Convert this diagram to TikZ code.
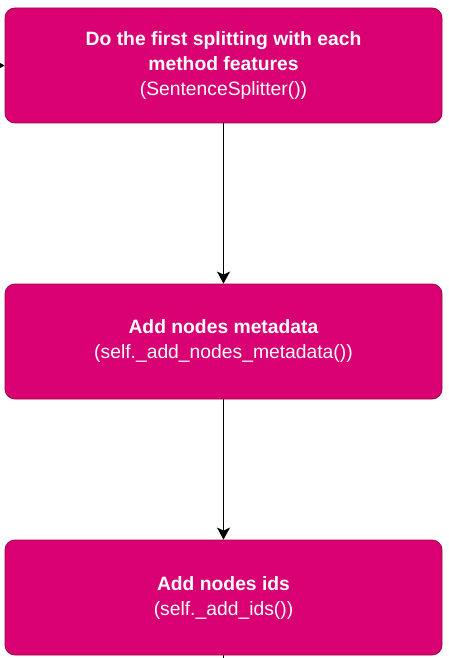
\documentclass[tikz,border=0pt]{standalone}
\usepackage{fontspec}
\setmainfont{Liberation Sans}
\usepackage{tikz}
\usetikzlibrary{calc,positioning,arrows.meta}
\definecolor{boxfill}{HTML}{D80073}
\definecolor{boxline}{HTML}{A50040}

\begin{document}
\begin{tikzpicture}[x=1pt, y=1pt, lbl/.style={font=\fontsize{19.3}{25}\selectfont}, >={Stealth[length=12pt, width=13pt, inset=3pt]}]
\tikzstyle{stepbox}=[rectangle, rounded corners=10pt, draw=boxline, line width=0.8pt, fill=boxfill, text=white, align=center, minimum width=437pt, minimum height=115pt, inner sep=0pt, lbl]
\useasboundingbox (0,0) rectangle (448,-658);
\node[stepbox] (split) at (223.5,-65.5) {\textbf{Do the first splitting with each}\\ \textbf{method features}\\ (SentenceSplitter())};
\node[stepbox] (meta) at (223.5,-341.5) {\textbf{Add nodes metadata}\\ (self.\_add\_nodes\_metadata())};
\node[stepbox] (ids) at (223.5,-597.5) {\textbf{Add nodes ids}\\ (self.\_add\_ids())};
\coordinate (in) at (-30,-65.5);
\coordinate (out) at (223.5,-690);
\draw[->, line width=1.6pt] (in) -- (split);
\foreach \i/\j in {split/meta,meta/ids}{\draw[->, line width=1.6pt] (\i) -- (\j);}
\draw[line width=1.6pt] (ids) -- (out);
\end{tikzpicture}
\end{document}
